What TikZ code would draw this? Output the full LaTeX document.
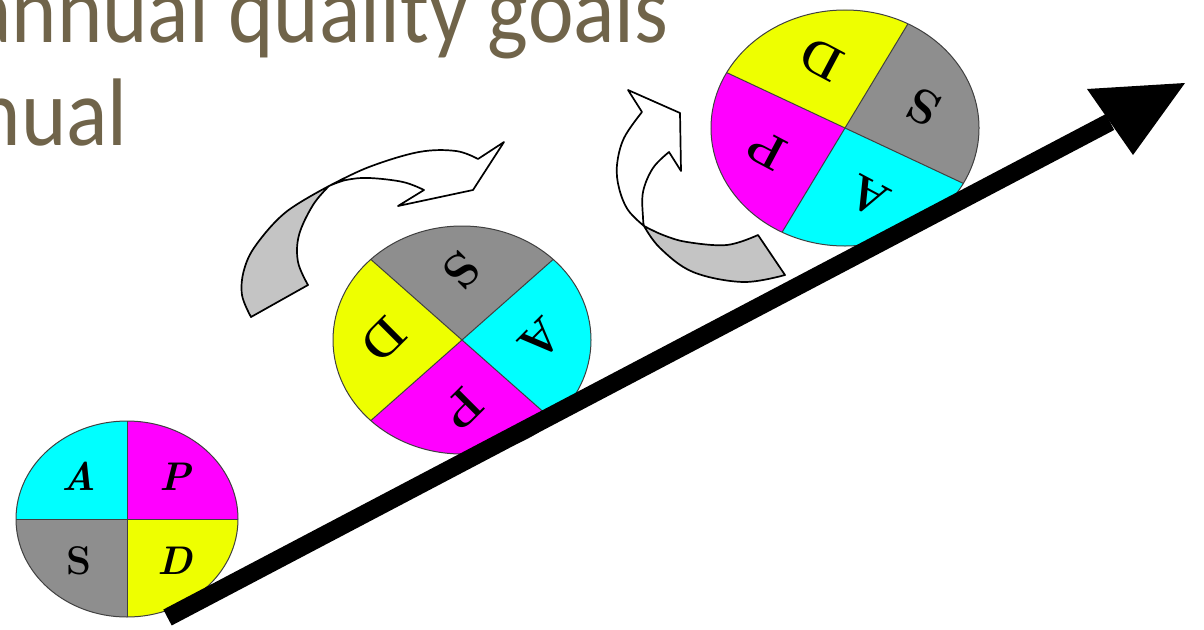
\documentclass[tikz,border=0pt]{standalone}
\usepackage{fontspec}
\usepackage{graphicx}
\newfontfamily\titlefont{Carlito}
\definecolor{qcyan}{RGB}{0,255,255}
\definecolor{qmag}{RGB}{255,0,255}
\definecolor{qyel}{RGB}{238,255,0}
\definecolor{qgray}{RGB}{142,142,142}
\definecolor{arrgray}{RGB}{196,196,196}
\definecolor{titlecol}{RGB}{112,100,74}
\newcommand\PDCAwheel[9]{%
\begin{scope}[shift={#2}, yscale=-1]
  \coordinate (#1) at (0,0);
  \fill[qmag]  (0,0) -- ({#5}:#3 and #4) arc[start angle={#5}, end angle={#5+90}, x radius=#3, y radius=#4] -- cycle;
  \fill[qcyan] (0,0) -- ({#5+90}:#3 and #4) arc[start angle={#5+90}, end angle={#5+180}, x radius=#3, y radius=#4] -- cycle;
  \fill[qgray] (0,0) -- ({#5+180}:#3 and #4) arc[start angle={#5+180}, end angle={#5+270}, x radius=#3, y radius=#4] -- cycle;
  \fill[qyel]  (0,0) -- ({#5+270}:#3 and #4) arc[start angle={#5+270}, end angle={#5+360}, x radius=#3, y radius=#4] -- cycle;
  \draw[wheelline] ({#5}:#3 and #4) -- ({#5+180}:#3 and #4);
  \draw[wheelline] ({#5+90}:#3 and #4) -- ({#5+270}:#3 and #4);
  \draw[wheelline] (0,0) ellipse[x radius=#3, y radius=#4];
  \node[wheelletter, rotate=#5] (#1A) at ({#5+135}:{0.61*#3} and {0.61*#4}) {#6};
  \node[wheelletter, rotate=#5] (#1P) at ({#5+45}:{0.61*#3} and {0.61*#4}) {#7};
  \node[wheelletter, rotate=#5] (#1D) at ({#5-45}:{0.61*#3} and {0.61*#4}) {#8};
  \node[wheelletter, rotate=#5] (#1S) at ({#5+225}:{0.61*#3} and {0.61*#4}) {#9};
\end{scope}}
\newcommand\smallW{\fontsize{40}{40}\selectfont\bfseries}
\newcommand\bigW{\fontsize{48}{48}\selectfont\bfseries}
\tikzset{
  wheelline/.style={draw=black!75, line width=1},
  wheelletter/.style={inner sep=0pt, text=black},
  arrface/.style={draw=black, line width=1.7, fill=white, line join=round},
  arrback/.style={draw=black, line width=1.7, fill=arrgray, line join=round},
  titletext/.style={inner sep=0pt, text=titlecol, font=\titlefont\fontsize{96}{100}\selectfont},
  ramp/.style={line width=18, draw=black, line cap=butt}
}
\begin{document}
\begin{tikzpicture}[x=1pt, y=-1pt]
\useasboundingbox (0,0) rectangle (1204,629);
\clip (0,0) rectangle (1204,629);
\fill[white] (0,0) rectangle (1204,629);

% title text (cut by the left edge)
\node[titletext, anchor=base east] (t1) at (669,42) {\scalebox{0.9}[1]{annual quality goals}};
\node[titletext, anchor=base east] (t2) at (128,145) {\scalebox{0.9}[1]{annual}};

% wheels
\PDCAwheel{w1}{(127,519)}{111}{98}{0}{{\smallW\itshape A}}{{\smallW\itshape P}}{{\smallW\itshape D}}{{\smallW S}}
\PDCAwheel{w2}{(462,340)}{129}{114}{-135}{{\bigW A}}{{\bigW P}}{{\bigW D}}{{\bigW S}}
\PDCAwheel{w3}{(845,128)}{134}{118}{152}{{\bigW A}}{{\bigW P}}{{\bigW D}}{{\bigW S}}

% curved arrow 1
\draw[arrback] plot[smooth, tension=0.6] coordinates {(251,317) (242,295) (244,270) (256,245) (286,212) (329,186)}
   -- plot[smooth, tension=0.6] coordinates {(329,186) (313,205) (299,235) (298,262) (308,285)} -- cycle;
\draw[arrface] plot[smooth, tension=0.6] coordinates {(329,186) (369,167) (419,152) (456,151) (478,159)}
   -- (504,142) -- (473,190) -- (398,206) -- (424,190)
   -- plot[smooth, tension=0.6] coordinates {(424,190) (403,182) (369,178) (346,180) (329,186)} -- cycle;

% curved arrow 2
\draw[arrback] plot[smooth, tension=0.6] coordinates {(785,275) (743,282) (693,272) (660,248) (644,226)}
   -- plot[smooth, tension=0.6] coordinates {(644,226) (663,235) (687,242) (727,245) (758,235)} -- cycle;
\draw[arrface] plot[smooth, tension=0.6] coordinates {(644,226) (628,210) (619,188) (617,165) (624,138) (642,112)}
   -- (628,90) -- (680,113) -- (681,171) -- (669,152)
   -- plot[smooth, tension=0.6] coordinates {(669,152) (653,168) (643,192) (643,218) (644,226)} -- cycle;

% ramp arrow
\coordinate (rtail) at (167.5,617.5);
\coordinate (rbase) at (1110,122);
\coordinate (rtip) at (1185,83);
\coordinate (rc1) at (1087,89);
\coordinate (rc2) at (1133,155);
\draw[ramp] (rtail) -- (rbase);
\fill[black] (rtip) -- (rc1) -- (rc2) -- cycle;
\end{tikzpicture}
\end{document}
